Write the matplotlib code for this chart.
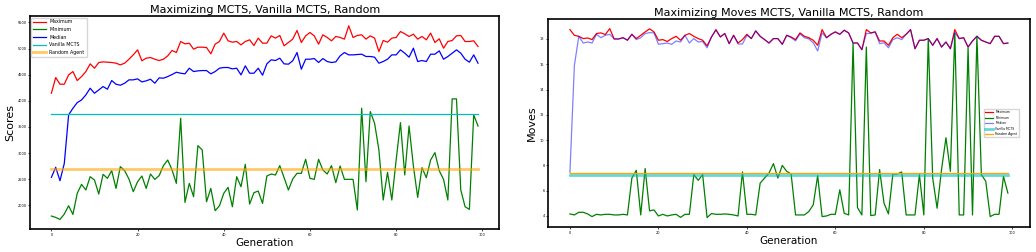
import numpy as np
import matplotlib
matplotlib.use('Agg')
import matplotlib.pyplot as plt

gen = np.arange(100)

# scores run (left)
score_max = [4145, 4445, 4318, 4318, 4496, 4560, 4388, 4464, 4560, 4707,
             4624, 4733, 4745, 4739, 4733, 4720, 4688, 4720, 4796, 4879,
             4975, 4765, 4816, 4828, 4796, 4771, 4796, 4860, 4963, 4924,
             5135, 5090, 5103, 4988, 5026, 5026, 5020, 4899, 5084, 5135,
             5295, 5148, 5122, 5135, 5071, 5135, 5167, 5058, 5199, 5103,
             5103, 5243, 5199, 5250, 5052, 5116, 5180, 5346, 5116, 5243,
             5307, 5243, 5084, 5263, 5212, 5148, 5231, 5212, 5180, 5435,
             5212, 5250, 5263, 5180, 5243, 5199, 4943, 5154, 5122, 5199,
             5212, 5326, 5282, 5231, 5275, 5180, 5231, 5167, 5295, 5116,
             5186, 5007, 5135, 5154, 5243, 5250, 5135, 5135, 5148, 5039]
score_min = [1796, 1770, 1732, 1834, 1993, 1827, 2230, 2402, 2294, 2549,
             2485, 2217, 2594, 2517, 2664, 2325, 2741, 2664, 2504, 2262,
             2453, 2562, 2325, 2600, 2498, 2568, 2760, 2868, 2677, 2421,
             3666, 2057, 2421, 2166, 3143, 3060, 2070, 2325, 1898, 1993,
             2230, 2345, 1974, 2549, 2357, 2785, 2025, 2243, 2274, 2038,
             2562, 2600, 2581, 2760, 2530, 2294, 2504, 2613, 2613, 2881,
             2517, 2498, 2881, 2677, 2600, 2760, 2434, 2753, 2498, 2498,
             2498, 1911, 3858, 2453, 3794, 3571, 3060, 2102, 2632, 2102,
             2868, 3583, 2581, 3519, 2753, 2153, 2722, 2530, 2868, 3009,
             2664, 2498, 2102, 4037, 4037, 2294, 1974, 1923, 3730, 3519]
score_med = [2536, 2728, 2472, 2804, 3730, 3858, 3966, 4017, 4113, 4241,
             4145, 4209, 4273, 4222, 4388, 4318, 4298, 4337, 4401, 4401,
             4420, 4362, 4382, 4413, 4337, 4439, 4433, 4464, 4503, 4547,
             4528, 4516, 4624, 4560, 4573, 4579, 4579, 4516, 4560, 4624,
             4637, 4637, 4611, 4624, 4496, 4669, 4528, 4528, 4624, 4490,
             4707, 4784, 4771, 4816, 4707, 4701, 4765, 4924, 4605, 4796,
             4796, 4809, 4733, 4809, 4752, 4733, 4745, 4860, 4924, 4879,
             4879, 4886, 4892, 4848, 4848, 4835, 4720, 4752, 4796, 4879,
             4879, 4975, 4911, 4835, 5007, 4752, 4771, 4752, 4892, 4892,
             4956, 4796, 4848, 4911, 4975, 4911, 4796, 4739, 4879, 4720]
score_vanilla = 3743
score_random = 2702

# moves run (right)
moves_max = [18.74, 18.29, 18.21, 18.03, 18.08, 17.95, 18.43, 18.48, 18.35, 18.82,
             18.0, 18.0, 18.1, 17.9, 18.37, 18.03, 18.29, 18.56, 18.8, 18.56,
             17.9, 17.95, 17.8, 18.03, 18.21, 17.9, 18.29, 18.43, 18.21, 18.03,
             17.9, 17.45, 18.16, 18.74, 18.16, 18.43, 17.63, 18.29, 17.68, 17.95,
             18.37, 18.03, 18.64, 18.21, 17.95, 17.68, 18.03, 18.03, 17.58, 18.29,
             18.16, 17.95, 18.48, 18.21, 18.1, 17.9, 17.5, 18.74, 18.1, 18.37,
             18.56, 18.37, 18.69, 18.48, 17.68, 17.68, 17.15, 18.74, 18.48, 18.56,
             17.84, 17.84, 17.5, 18.1, 18.37, 18.1, 18.37, 18.74, 17.23, 17.9,
             17.9, 18.03, 17.5, 18.03, 17.36, 17.76, 17.23, 18.74, 18.03, 18.1,
             17.36, 17.84, 18.21, 17.9, 17.76, 17.63, 18.21, 18.21, 17.63, 17.68]
moves_min = [4.16, 4.08, 4.29, 4.29, 4.16, 3.95, 4.13, 4.08, 4.13, 4.13,
             4.08, 4.08, 4.13, 4.08, 7.0, 7.61, 4.08, 7.75, 4.4, 4.48,
             4.0, 4.13, 4.0, 4.08, 4.13, 3.89, 4.13, 4.13, 7.27, 6.82,
             7.27, 3.87, 4.19, 4.13, 4.13, 4.16, 4.13, 4.08, 4.0, 7.48,
             4.13, 4.13, 4.08, 6.6, 7.0, 7.4, 8.14, 7.0, 8.0, 7.53,
             7.32, 4.08, 4.08, 4.08, 4.35, 4.88, 7.19, 3.95, 4.0, 4.13,
             4.13, 6.07, 4.21, 4.08, 17.65, 4.66, 4.08, 17.36, 4.03, 4.08,
             7.67, 5.01, 4.16, 7.32, 7.32, 7.48, 4.08, 4.08, 4.08, 7.27,
             4.08, 18.03, 7.0, 4.61, 7.67, 10.19, 7.53, 18.5, 4.08, 4.08,
             17.3, 4.08, 18.21, 7.27, 6.74, 3.95, 4.13, 4.13, 7.13, 5.81]
moves_med = [7.45, 15.9, 18.21, 17.68, 17.76, 17.68, 18.37, 18.1, 18.29, 18.37,
             18.0, 18.0, 18.1, 17.9, 18.37, 17.95, 18.1, 18.43, 18.5, 18.48,
             17.58, 17.63, 17.68, 17.58, 17.84, 17.76, 18.29, 17.68, 18.03, 17.76,
             17.8, 17.3, 18.16, 18.7, 18.16, 18.43, 17.63, 18.29, 17.6, 17.6,
             18.3, 18.03, 18.64, 18.21, 17.95, 17.68, 18.03, 18.03, 17.58, 18.29,
             18.1, 17.85, 18.4, 18.1, 18.0, 17.7, 17.05, 18.48, 18.1, 18.37,
             18.56, 18.37, 18.69, 18.48, 17.68, 17.68, 17.15, 18.43, 18.45, 18.56,
             17.63, 17.7, 17.3, 17.95, 18.1, 17.95, 18.37, 18.74, 17.23, 17.9,
             17.9, 18.03, 17.5, 18.03, 17.36, 17.76, 17.23, 18.48, 18.03, 18.1,
             17.36, 17.84, 18.21, 17.9, 17.76, 17.63, 18.21, 18.21, 17.63, 17.68]
moves_vanilla = 7.21
moves_random = 7.40

fig = plt.figure(figsize=(10.36, 2.52), dpi=100)

# left plot: scores
ax1 = fig.add_axes([0.029, 0.091, 0.453, 0.845])
ax1.plot(gen, score_max, color='red', lw=0.9, label='Maximum')
ax1.plot(gen, score_min, color='green', lw=0.9, label='Minimum')
ax1.plot(gen, score_med, color='blue', lw=0.9, label='Median')
ax1.plot(gen, [score_vanilla] * len(gen), color='c', lw=0.9, label='Vanilla MCTS')
ax1.plot(gen, [score_random] * len(gen), color='orange', lw=2, alpha=0.6, label='Random Agent')
ax1.set_title("Maximizing MCTS, Vanilla MCTS, Random", fontsize=8, pad=2)
ax1.set_xlabel("Generation", fontsize=7.5, labelpad=1)
ax1.set_ylabel("Scores", fontsize=8, labelpad=2)
ax1.set_xticks(np.arange(0, 101, 20))
ax1.tick_params(labelsize=2.5, length=1.5, width=0.5, pad=1)
ax1.legend(loc='upper left', fontsize=3.4, handlelength=2.6, labelspacing=0.55,
           borderaxespad=0.3)

# right plot: moves
ax2 = fig.add_axes([0.529, 0.099, 0.465, 0.825])
ax2.plot(gen, moves_max, color='red', lw=0.9, label='Maximum')
ax2.plot(gen, moves_min, color='green', lw=0.9, label='Minimum')
ax2.plot(gen, moves_med, color='blue', lw=0.9, alpha=0.5, label='Median')
ax2.plot(gen, [moves_vanilla] * len(gen), color='c', lw=2, alpha=0.6, label='Vanilla MCTS')
ax2.plot(gen, [moves_random] * len(gen), color='orange', lw=0.9, label='Random Agent')
ax2.set_title("Maximizing Moves MCTS, Vanilla MCTS, Random", fontsize=8, pad=2)
ax2.set_xlabel("Generation", fontsize=7.5, labelpad=1)
ax2.set_ylabel("Moves", fontsize=8, labelpad=2)
ax2.set_xticks(np.arange(0, 101, 20))
ax2.tick_params(labelsize=2.5, length=1.5, width=0.5, pad=1)
ax2.legend(loc='center right', bbox_to_anchor=(0.98, 0.5), fontsize=2.2, handlelength=2.5)

for ax in (ax1, ax2):
    for s in ax.spines.values():
        s.set_linewidth(1.2)

plt.savefig('out.png', dpi=100)
